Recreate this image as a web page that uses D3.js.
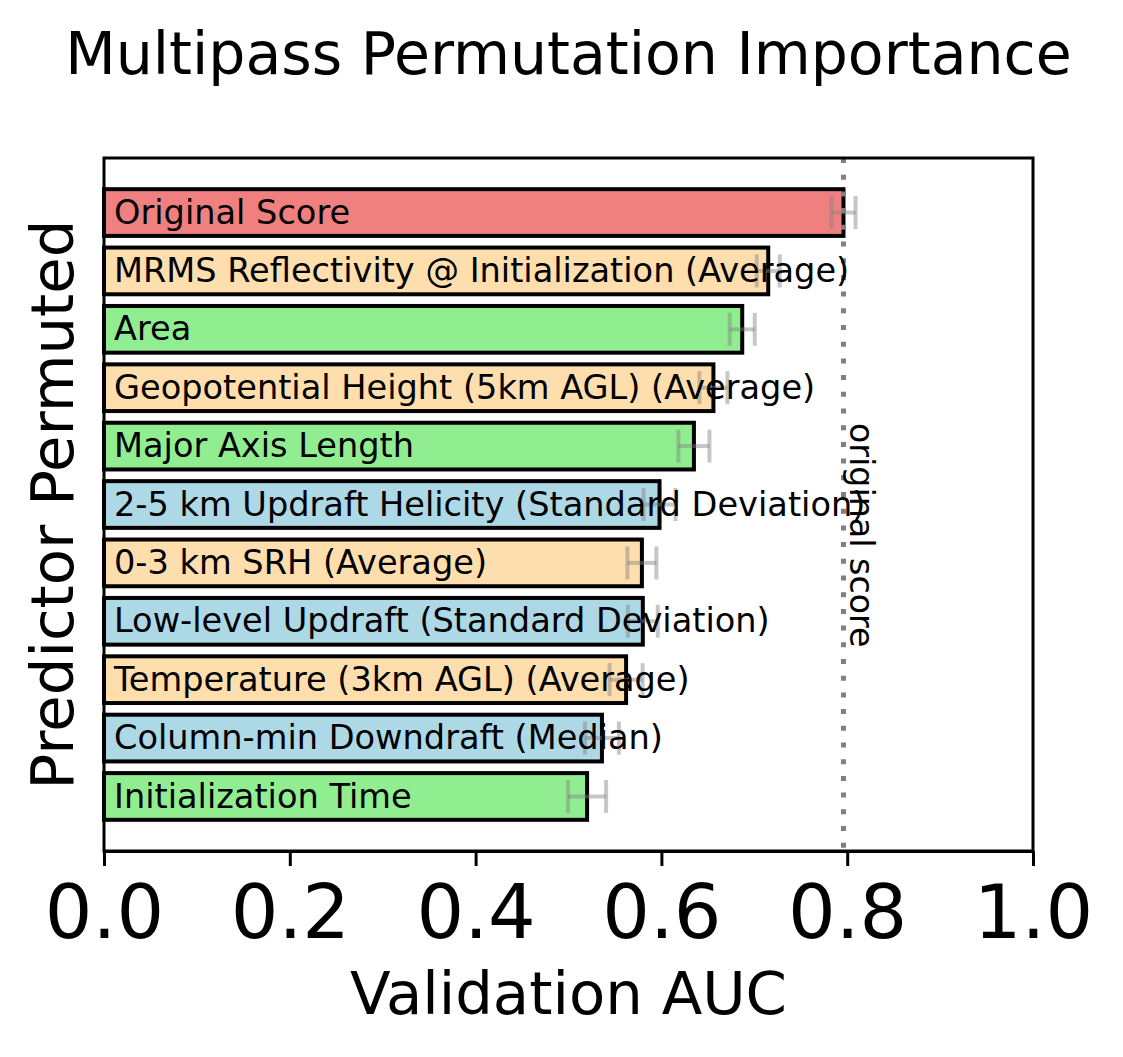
<!DOCTYPE html>
<html>
<head>
<meta charset="utf-8">
<script src="https://cdn.jsdelivr.net/npm/d3@7"></script>
<style>
  html, body { margin: 0; padding: 0; background: #fff; }
  text { font-family: "DejaVu Sans", sans-serif; }
</style>
</head>
<body>
<svg id="chart" width="1123" height="1057"></svg>
<script>
const categories = [
  "Original Score",
  "MRMS Reflectivity @ Initialization (Average)",
  "Area",
  "Geopotential Height (5km AGL) (Average)",
  "Major Axis Length",
  "2-5 km Updraft Helicity (Standard Deviation)",
  "0-3 km SRH (Average)",
  "Low-level Updraft (Standard Deviation)",
  "Temperature (3km AGL) (Average)",
  "Column-min Downdraft (Median)",
  "Initialization Time"
];
const scores = [0.796, 0.715, 0.687, 0.656, 0.635, 0.598, 0.579, 0.580, 0.562, 0.536, 0.520];
const errors = [0.013, 0.0124, 0.0135, 0.0151, 0.0167, 0.0172, 0.0156, 0.0161, 0.0178, 0.0183, 0.0205];
const colors = ["lightcoral", "navajowhite", "lightgreen", "navajowhite", "lightgreen", "lightblue",
                "navajowhite", "lightblue", "navajowhite", "lightblue", "lightgreen"];
const xTicks = [0.0, 0.2, 0.4, 0.6, 0.8, 1.0];
const originalScore = 0.796;

(function () {
const mLeft = 104, mRight = 1033, mTop = 158, mBottom = 851;

const svg = d3.select("#chart");

const x = d3.scaleLinear().domain([0, 1]).range([mLeft, mRight]);
const y = d3.scaleBand().domain(categories).range([mTop, mBottom]).paddingInner(0.2).paddingOuter(0.534);

// Bars
svg.append("g").selectAll("rect").data(categories).join("rect")
  .attr("x", x(0))
  .attr("y", d => y(d))
  .attr("width", (d, i) => x(scores[i]) - x(0))
  .attr("height", y.bandwidth())
  .attr("fill", (d, i) => colors[i])
  .attr("stroke", "#000")
  .attr("stroke-width", 4);

// Error bars
const eb = svg.append("g").attr("stroke", "gray").attr("stroke-opacity", 0.45).attr("stroke-width", 4);
categories.forEach((c, i) => {
  const cy = y(c) + y.bandwidth() / 2;
  const x1 = x(scores[i] - errors[i]), x2 = x(scores[i] + errors[i]);
  eb.append("line").attr("x1", x1).attr("x2", x2).attr("y1", cy).attr("y2", cy);
  eb.append("line").attr("x1", x1).attr("x2", x1).attr("y1", cy - 16.5).attr("y2", cy + 16.5);
  eb.append("line").attr("x1", x2).attr("x2", x2).attr("y1", cy - 16.5).attr("y2", cy + 16.5);
});

// Original score line
svg.append("line")
  .attr("x1", x(originalScore)).attr("x2", x(originalScore))
  .attr("y1", mTop).attr("y2", mBottom)
  .attr("stroke", "gray").attr("stroke-width", 5)
  .attr("stroke-dasharray", "5,11.7");

// Bar labels
svg.append("g").selectAll("text").data(categories).join("text")
  .attr("x", x(0) + 10)
  .attr("y", d => y(d) + y.bandwidth() / 2)
  .attr("dy", "0.33em")
  .attr("font-size", 33.6)
  .attr("fill", "#000")
  .text(d => d);

// "original score" label
svg.append("text")
  .attr("transform", `translate(${x(originalScore) + 7},423) rotate(90)`)
  .attr("font-size", 33.3)
  .attr("fill", "#000")
  .text("original score");

// Frame
svg.append("rect")
  .attr("x", mLeft).attr("y", mTop)
  .attr("width", mRight - mLeft).attr("height", mBottom - mTop)
  .attr("fill", "none").attr("stroke", "#000").attr("stroke-width", 3);

// X axis
const xAxis = svg.append("g")
  .attr("transform", `translate(0,${mBottom})`)
  .call(d3.axisBottom(x).tickValues(xTicks).tickFormat(d3.format(".1f")).tickSize(15).tickSizeOuter(0));
xAxis.select(".domain").attr("stroke-width", 3);
xAxis.selectAll(".tick line").attr("stroke-width", 3);
xAxis.selectAll(".tick text")
  .attr("y", 87).attr("dy", null)
  .attr("font-size", 75)
  .attr("font-family", "DejaVu Sans")
  .attr("fill", "#000");

// Axis labels
svg.append("text")
  .attr("x", (mLeft + mRight) / 2).attr("y", 1014)
  .attr("text-anchor", "middle").attr("font-size", 59.3)
  .text("Validation AUC");

svg.append("text")
  .attr("transform", `translate(73,${(mTop + mBottom) / 2}) rotate(-90)`)
  .attr("text-anchor", "middle").attr("font-size", 59.3)
  .text("Predictor Permuted");

// Title
svg.append("text")
  .attr("x", (mLeft + mRight) / 2).attr("y", 74)
  .attr("text-anchor", "middle").attr("font-size", 58.5)
  .text("Multipass Permutation Importance");
})();
</script>
</body>
</html>
